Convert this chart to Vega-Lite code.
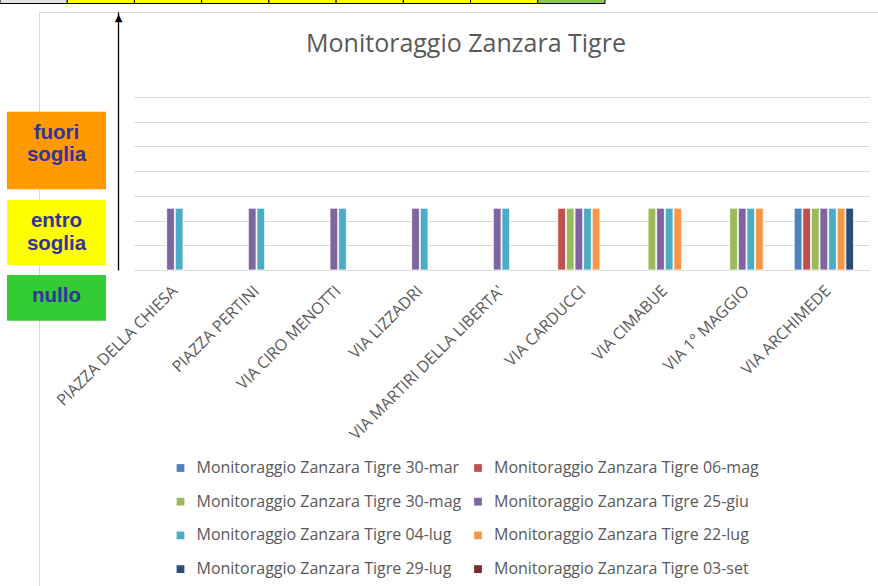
{
  "$schema": "https://vega.github.io/schema/vega-lite/v6.json",
  "width": 839,
  "height": 574,
  "autosize": {"type": "none"},
  "padding": {"left": 39, "top": 12, "right": 0, "bottom": 0},
  "background": "white",
  "config": {
    "view": {"stroke": "#d9d9d9", "strokeWidth": 1},
    "font": "Open Sans"
  },
  "title": {
    "text": "Monitoraggio Zanzara Tigre",
    "font": "Open Sans",
    "fontSize": 25,
    "fontWeight": "normal",
    "color": "#595959",
    "anchor": "middle",
    "frame": "group",
    "baseline": "alphabetic",
    "offset": -40,
    "dy": 42,
    "dx": 7.5
  },
  "datasets": {
    "misure": [
      {"via": "PIAZZA DELLA CHIESA", "serie": "Monitoraggio Zanzara Tigre 25-giu", "valore": 2.5},
      {"via": "PIAZZA DELLA CHIESA", "serie": "Monitoraggio Zanzara Tigre 04-lug", "valore": 2.5},
      {"via": "PIAZZA PERTINI", "serie": "Monitoraggio Zanzara Tigre 25-giu", "valore": 2.5},
      {"via": "PIAZZA PERTINI", "serie": "Monitoraggio Zanzara Tigre 04-lug", "valore": 2.5},
      {"via": "VIA CIRO MENOTTI", "serie": "Monitoraggio Zanzara Tigre 25-giu", "valore": 2.5},
      {"via": "VIA CIRO MENOTTI", "serie": "Monitoraggio Zanzara Tigre 04-lug", "valore": 2.5},
      {"via": "VIA LIZZADRI", "serie": "Monitoraggio Zanzara Tigre 25-giu", "valore": 2.5},
      {"via": "VIA LIZZADRI", "serie": "Monitoraggio Zanzara Tigre 04-lug", "valore": 2.5},
      {"via": "VIA MARTIRI DELLA LIBERTA'", "serie": "Monitoraggio Zanzara Tigre 25-giu", "valore": 2.5},
      {"via": "VIA MARTIRI DELLA LIBERTA'", "serie": "Monitoraggio Zanzara Tigre 04-lug", "valore": 2.5},
      {"via": "VIA CARDUCCI", "serie": "Monitoraggio Zanzara Tigre 06-mag", "valore": 2.5},
      {"via": "VIA CARDUCCI", "serie": "Monitoraggio Zanzara Tigre 30-mag", "valore": 2.5},
      {"via": "VIA CARDUCCI", "serie": "Monitoraggio Zanzara Tigre 25-giu", "valore": 2.5},
      {"via": "VIA CARDUCCI", "serie": "Monitoraggio Zanzara Tigre 04-lug", "valore": 2.5},
      {"via": "VIA CARDUCCI", "serie": "Monitoraggio Zanzara Tigre 22-lug", "valore": 2.5},
      {"via": "VIA CIMABUE", "serie": "Monitoraggio Zanzara Tigre 30-mag", "valore": 2.5},
      {"via": "VIA CIMABUE", "serie": "Monitoraggio Zanzara Tigre 25-giu", "valore": 2.5},
      {"via": "VIA CIMABUE", "serie": "Monitoraggio Zanzara Tigre 04-lug", "valore": 2.5},
      {"via": "VIA CIMABUE", "serie": "Monitoraggio Zanzara Tigre 22-lug", "valore": 2.5},
      {"via": "VIA 1° MAGGIO", "serie": "Monitoraggio Zanzara Tigre 30-mag", "valore": 2.5},
      {"via": "VIA 1° MAGGIO", "serie": "Monitoraggio Zanzara Tigre 25-giu", "valore": 2.5},
      {"via": "VIA 1° MAGGIO", "serie": "Monitoraggio Zanzara Tigre 04-lug", "valore": 2.5},
      {"via": "VIA 1° MAGGIO", "serie": "Monitoraggio Zanzara Tigre 22-lug", "valore": 2.5},
      {"via": "VIA ARCHIMEDE", "serie": "Monitoraggio Zanzara Tigre 30-mar", "valore": 2.5},
      {"via": "VIA ARCHIMEDE", "serie": "Monitoraggio Zanzara Tigre 06-mag", "valore": 2.5},
      {"via": "VIA ARCHIMEDE", "serie": "Monitoraggio Zanzara Tigre 30-mag", "valore": 2.5},
      {"via": "VIA ARCHIMEDE", "serie": "Monitoraggio Zanzara Tigre 25-giu", "valore": 2.5},
      {"via": "VIA ARCHIMEDE", "serie": "Monitoraggio Zanzara Tigre 04-lug", "valore": 2.5},
      {"via": "VIA ARCHIMEDE", "serie": "Monitoraggio Zanzara Tigre 22-lug", "valore": 2.5},
      {"via": "VIA ARCHIMEDE", "serie": "Monitoraggio Zanzara Tigre 29-lug", "valore": 2.5}
    ],
    "soglie": [
      {"colonna": "legenda", "livello": "fuori soglia", "etichetta": "fuori\nsoglia", "minimo": 3.27, "massimo": 6.4},
      {"colonna": "legenda", "livello": "entro soglia", "etichetta": "entro\nsoglia", "minimo": 0.2, "massimo": 2.83},
      {"colonna": "legenda", "livello": "nullo", "etichetta": "nullo", "minimo": -2.05, "massimo": -0.2}
    ],
    "tabella": [
      {"cella": 1, "riga": "ultima", "stato": "intestazione"},
      {"cella": 2, "riga": "ultima", "stato": "entro soglia"},
      {"cella": 3, "riga": "ultima", "stato": "entro soglia"},
      {"cella": 4, "riga": "ultima", "stato": "entro soglia"},
      {"cella": 5, "riga": "ultima", "stato": "entro soglia"},
      {"cella": 6, "riga": "ultima", "stato": "entro soglia"},
      {"cella": 7, "riga": "ultima", "stato": "entro soglia"},
      {"cella": 8, "riga": "ultima", "stato": "entro soglia"},
      {"cella": 9, "riga": "ultima", "stato": "nullo"}
    ]
  },
  "layer": [
    {
      "data": {"name": "tabella"},
      "mark": {"type": "rect", "stroke": "#000000", "strokeWidth": 1},
      "encoding": {
        "x": {"field": "cella", "type": "ordinal", "scale": {"range": [-39, 566], "paddingInner": 0, "paddingOuter": 0}, "axis": null},
        "y": {"field": "riga", "type": "nominal", "scale": {"range": [-17, -8.5], "paddingInner": 0, "paddingOuter": 0}, "axis": null},
        "fill": {
          "field": "stato",
          "type": "nominal",
          "scale": {"domain": ["intestazione", "entro soglia", "nullo"], "range": ["#e3e3e3", "#ffff00", "#8cc653"]},
          "legend": null
        }
      }
    },
    {
      "data": {"name": "misure"},
      "mark": {"type": "bar", "stroke": "white", "strokeWidth": 0.8},
      "encoding": {
        "x": {
          "field": "via",
          "type": "nominal",
          "scale": {
            "domain": ["PIAZZA DELLA CHIESA", "PIAZZA PERTINI", "VIA CIRO MENOTTI", "VIA LIZZADRI", "VIA MARTIRI DELLA LIBERTA'", "VIA CARDUCCI", "VIA CIMABUE", "VIA 1° MAGGIO", "VIA ARCHIMEDE"],
            "range": [95, 830],
            "paddingInner": 0.168,
            "paddingOuter": 0.084
          },
          "axis": {
            "orient": "bottom",
            "offset": -316,
            "title": null,
            "domain": false,
            "ticks": false,
            "tickSize": 0,
            "grid": false,
            "labelAngle": -45,
            "labelAlign": "right",
            "labelBaseline": "middle",
            "labelPadding": 18,
            "labelFont": "Open Sans",
            "labelFontSize": 16,
            "labelColor": "#595959",
            "labelLimit": 400,
            "labelOverlap": false
          }
        },
        "xOffset": {
          "field": "serie",
          "type": "nominal",
          "scale": {
            "domain": ["Monitoraggio Zanzara Tigre 30-mar", "Monitoraggio Zanzara Tigre 06-mag", "Monitoraggio Zanzara Tigre 30-mag", "Monitoraggio Zanzara Tigre 25-giu", "Monitoraggio Zanzara Tigre 04-lug", "Monitoraggio Zanzara Tigre 22-lug", "Monitoraggio Zanzara Tigre 29-lug", "Monitoraggio Zanzara Tigre 03-set"],
            "paddingInner": 0.1,
            "paddingOuter": 0
          }
        },
        "y": {
          "field": "valore",
          "type": "quantitative",
          "scale": {"domain": [0, 10.44], "range": [258, 0], "nice": false, "zero": true},
          "axis": {
            "orient": "left",
            "offset": -79,
            "values": [0, 1, 2, 3, 4, 5, 6, 7],
            "grid": true,
            "gridColor": "#d9d9d9",
            "gridWidth": 1,
            "labels": false,
            "ticks": false,
            "domain": true,
            "domainColor": "#000000",
            "domainWidth": 1.3,
            "title": "▲",
            "titleFont": "DejaVu Sans",
            "titleFontSize": 10,
            "titleFontWeight": "normal",
            "titleColor": "#000000",
            "titleAngle": 0,
            "titleAlign": "center",
            "titleBaseline": "top",
            "titleX": 0,
            "titleY": 0
          }
        },
        "color": {
          "field": "serie",
          "type": "nominal",
          "scale": {
            "domain": ["Monitoraggio Zanzara Tigre 30-mar", "Monitoraggio Zanzara Tigre 06-mag", "Monitoraggio Zanzara Tigre 30-mag", "Monitoraggio Zanzara Tigre 25-giu", "Monitoraggio Zanzara Tigre 04-lug", "Monitoraggio Zanzara Tigre 22-lug", "Monitoraggio Zanzara Tigre 29-lug", "Monitoraggio Zanzara Tigre 03-set"],
            "range": ["#4f81bd", "#c0504d", "#9bbb59", "#8064a2", "#4bacc6", "#f79646", "#2c4d75", "#772c2a"]
          },
          "legend": {
            "orient": "none",
            "legendX": 133.5,
            "legendY": 448,
            "direction": "horizontal",
            "columns": 2,
            "title": null,
            "symbolType": "square",
            "symbolSize": 60,
            "symbolStrokeWidth": 0,
            "labelFont": "Open Sans",
            "labelFontSize": 16,
            "labelColor": "#595959",
            "labelOffset": 8,
            "labelLimit": 400,
            "rowPadding": 17.7,
            "columnPadding": 8.5
          }
        }
      }
    },
    {
      "data": {"name": "soglie"},
      "mark": {"type": "rect"},
      "encoding": {
        "x": {"field": "colonna", "type": "nominal", "scale": {"range": [-32, 67], "paddingInner": 0, "paddingOuter": 0}, "axis": null},
        "y": {"field": "minimo", "type": "quantitative", "scale": {"domain": [0, 10.44], "range": [258, 0], "nice": false, "zero": true}, "axis": null},
        "y2": {"field": "massimo"},
        "fill": {
          "field": "livello",
          "type": "nominal",
          "scale": {"domain": ["fuori soglia", "entro soglia", "nullo"], "range": ["#ff9900", "#ffff00", "#33cc33"]},
          "legend": null
        }
      }
    },
    {
      "data": {"name": "soglie"},
      "mark": {"type": "text", "font": "Liberation Sans", "fontSize": 20.5, "fontWeight": "bold", "color": "#333399", "lineBreak": "\n", "lineHeight": 22.5, "baseline": "alphabetic", "align": "center", "dy": 27},
      "encoding": {
        "x": {"field": "colonna", "type": "nominal", "scale": {"range": [-32, 67], "paddingInner": 0, "paddingOuter": 0}, "axis": null},
        "y": {"field": "massimo", "type": "quantitative", "scale": {"domain": [0, 10.44], "range": [258, 0], "nice": false, "zero": true}, "axis": null},
        "text": {"field": "etichetta"}
      }
    }
  ],
  "resolve": {"scale": {"x": "independent", "y": "independent", "fill": "independent"}}
}
